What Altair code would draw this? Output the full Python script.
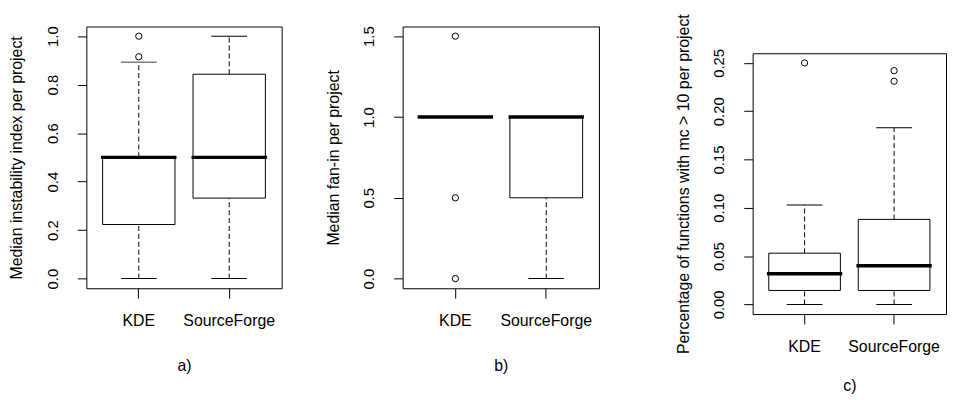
import altair as alt
import pandas as pd

categories = ["KDE", "SourceForge"]

# Panel a) Median instability index per project
a_low = [0.0, 0.0]
a_q1 = [0.223, 0.332]
a_median = [0.5, 0.5]
a_q3 = [0.5, 0.843]
a_high = [0.893, 1.0]
a_out_cat = ["KDE", "KDE"]
a_out_val = [1.0, 0.915]
a_ticks = [0.0, 0.2, 0.4, 0.6, 0.8, 1.0]

# Panel b) Median fan-in per project
b_low = [1.0, 0.0]
b_q1 = [1.0, 0.5]
b_median = [1.0, 1.0]
b_q3 = [1.0, 1.0]
b_high = [1.0, 1.0]
b_out_cat = ["KDE", "KDE", "KDE"]
b_out_val = [1.5, 0.5, 0.0]
b_ticks = [0.0, 0.5, 1.0, 1.5]

# Panel c) Percentage of functions with mc > 10 per project
c_low = [0.0, 0.0]
c_q1 = [0.0144, 0.0144]
c_median = [0.0317, 0.040]
c_q3 = [0.053, 0.088]
c_high = [0.103, 0.183]
c_out_cat = ["KDE", "SourceForge", "SourceForge"]
c_out_val = [0.25, 0.242, 0.231]
c_ticks = [0.0, 0.05, 0.10, 0.15, 0.20, 0.25]


def panel(low, q1, med, q3, high, out_cat, out_val, ticks, fmt, domain,
          ytitle, label, width, height, xtitle_pad):
    stats = pd.DataFrame({"cat": categories, "low": low, "q1": q1,
                          "med": med, "q3": q3, "high": high})
    outs = pd.DataFrame({"cat": out_cat, "val": out_val})
    xaxis = alt.Axis(title=label, labelAngle=0, domain=False, grid=False,
                     tickSize=10, labelPadding=15, titlePadding=xtitle_pad,
                     labelOverlap=False, labelFlush=False, labelFontSize=16)
    xenc = alt.X("cat:N", sort=categories,
                 scale=alt.Scale(domain=categories, paddingInner=0.2,
                                 paddingOuter=0.18),
                 axis=xaxis)
    yscale = alt.Scale(domain=domain, nice=False, zero=False)
    yaxis = alt.Axis(title=ytitle, values=ticks, format=fmt, labelAngle=270,
                     labelAlign="center", labelBaseline="bottom",
                     labelPadding=17, tickSize=9, domain=False, grid=False,
                     titlePadding=21, labelOverlap=False, labelFontSize=15)

    def Y(f):
        return alt.Y(f + ":Q", scale=yscale, axis=yaxis)

    base = alt.Chart(stats)
    upper = base.mark_rule(strokeDash=[5, 3], color="black", strokeWidth=1).encode(
        x=xenc, y=Y("q3"), y2="high")
    lower = base.mark_rule(strokeDash=[5, 3], color="black", strokeWidth=1).encode(
        x=xenc, y=Y("low"), y2="q1")
    box = base.mark_bar(fill="white", stroke="black", strokeWidth=1, opacity=1).encode(
        x=xenc, y=Y("q1"), y2="q3")
    cap_hi = base.mark_tick(orient="horizontal", size=36, thickness=1,
                            color="black", opacity=1).encode(x=xenc, y=Y("high"))
    cap_lo = base.mark_tick(orient="horizontal", size=36, thickness=1,
                            color="black", opacity=1).encode(x=xenc, y=Y("low"))
    median = base.mark_tick(orient="horizontal", size=76, thickness=3.5,
                            color="black", opacity=1).encode(x=xenc, y=Y("med"))
    pts = alt.Chart(outs).mark_point(shape="circle", filled=False, size=40,
                                     color="black", strokeWidth=1, opacity=1).encode(
        x=xenc, y=alt.Y("val:Q", scale=yscale, axis=yaxis))
    return alt.layer(upper, lower, box, cap_hi, cap_lo, median, pts).properties(
        width=width, height=height)


def spacer(w, h):
    return alt.Chart(pd.DataFrame({"v": [0]})).mark_text().encode(
        text=alt.value(" ")).properties(
        width=w, height=h, view=alt.ViewBackground(stroke="transparent"))


pa = panel(a_low, a_q1, a_median, a_q3, a_high, a_out_cat, a_out_val, a_ticks,
           ".1f", [-0.04, 1.04], "Median instability index per project", "a)",
           197, 264, 29)
pb = panel(b_low, b_q1, b_median, b_q3, b_high, b_out_cat, b_out_val, b_ticks,
           ".1f", [-0.06, 1.56], "Median fan-in per project", "b)",
           198, 264, 29)
pc = panel(c_low, c_q1, c_median, c_q3, c_high, c_out_cat, c_out_val, c_ticks,
           ".2f", [-0.01, 0.26], "Percentage of functions with mc > 10 per project", "c)",
           195, 263, 23)

right = alt.vconcat(spacer(195, 1), pc, spacing=26, bounds="flush")

chart = alt.hconcat(pa, spacer(102, 1), pb, spacer(135, 1), right,
                    spacing=10, bounds="flush").properties(
    padding={"left": 0, "top": 3, "right": 0, "bottom": 0}
).configure(font="Liberation Sans").configure_view(
    stroke="black", strokeWidth=1
).configure_axis(
    labelFont="Liberation Sans", titleFont="Liberation Sans",
    titleFontSize=16, labelColor="black",
    titleColor="black", tickColor="black", titleFontWeight="normal"
)

chart.save("out.html", embed_options={"renderer": "svg", "actions": False})
